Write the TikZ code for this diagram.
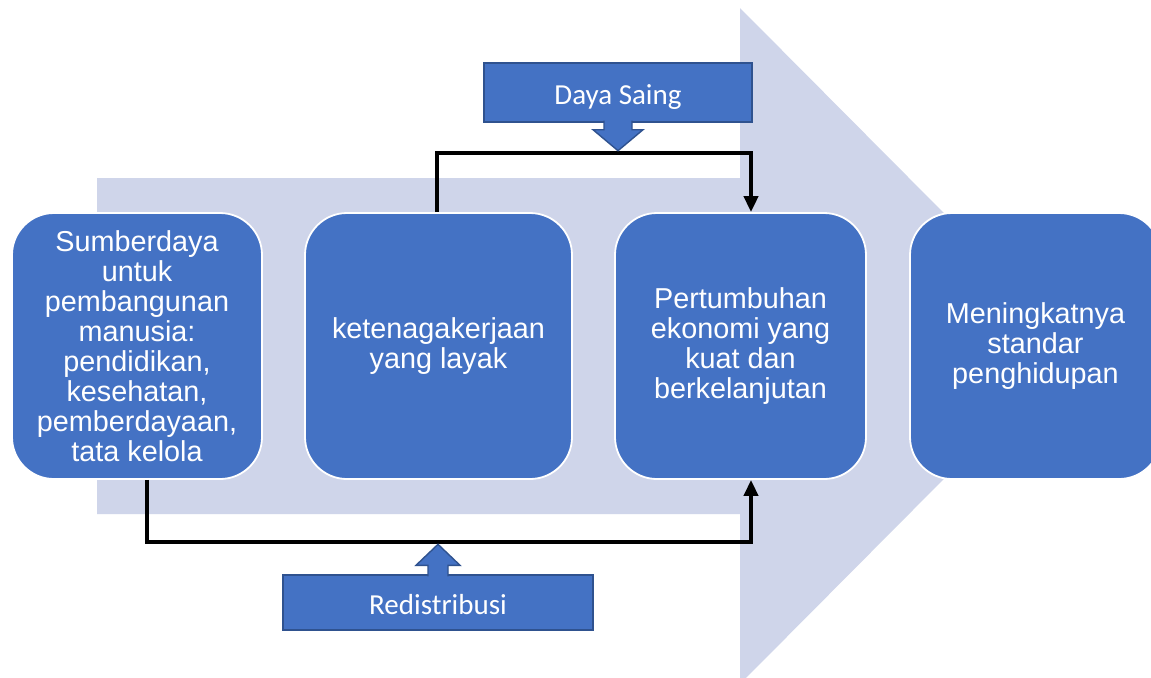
\documentclass[tikz,border=0pt]{standalone}
\usepackage{fontspec}
\setmainfont{Liberation Sans}
\newfontfamily\calibri{Carlito}
\usetikzlibrary{arrows.meta}

\definecolor{boxblue}{HTML}{4472C4}
\definecolor{shaftblue}{HTML}{CFD5EA}
\definecolor{calloutline}{HTML}{2F528F}

\begin{document}
\begin{tikzpicture}[x=0.5pt,y=-0.5pt,
    stage/.style={rectangle,rounded corners=21pt,fill=boxblue,draw=white,line width=0.9pt,
      text=white,align=center,minimum height=133pt,inner sep=2pt,
      font=\fontsize{14.4}{15}\selectfont},
    callout/.style={rectangle,fill=boxblue,draw=calloutline,line width=0.7pt,text=white,
      text height=12.4pt,text depth=0pt,
      font=\calibri\fontsize{14.5}{16}\selectfont},
    pointer/.style={fill=boxblue,draw=calloutline,line width=0.7pt},
    link/.style={line width=2pt,-{Triangle[width=7pt,length=8pt]}}]
  \useasboundingbox (0,0) rectangle (1151,677);
  \clip (0,0) rectangle (1151,677);
  \fill[white] (0,0) rectangle (1151,677);

  % big background arrow
  \fill[shaftblue] (97,178) -- (740,178) -- (740,8) -- (1076,346)
    -- (740,684) -- (740,514) -- (97,514) -- cycle;

  % stages
  \node[stage,minimum width=125pt] (sumber) at (137,346)
    {Sumberdaya\\untuk\\pembangunan\\manusia:\\pendidikan,\\kesehatan,\\pemberdayaan,\\tata kelola};
  \node[stage,minimum width=133.5pt] (kerja) at (438.5,346) {ketenagakerjaan\\yang layak};
  \node[stage,minimum width=125.5pt] (tumbuh) at (740.5,346)
    {Pertumbuhan\\ekonomi yang\\kuat dan\\berkelanjutan};
  \node[stage,minimum width=125.5pt] (hidup) at (1035.5,346)
    {Meningkatnya\\standar\\penghidupan};

  % connectors
  \draw[link] ([xshift=-1pt]kerja.north) -- ++(0,-59) -| ([xshift=5.25pt]tumbuh.north);
  \draw[link] ([xshift=5pt]sumber.south) -- ++(0,62) -| ([xshift=5.25pt]tumbuh.south);

  % callouts
  \node[callout,minimum width=134pt,minimum height=29.5pt] (daya) at (618,92.5) {Daya Saing};
  \draw[pointer] ([xshift=-7pt,yshift=1pt]daya.south) -- ++(0,9) -- ++(-11,0) -- ++(25,21)
    -- ++(25,-21) -- ++(-11,0) -- ++(0,-9);
  \node[callout,minimum width=155pt,minimum height=27.5pt] (redis) at (438,602.5) {Redistribusi};
  \draw[pointer] ([xshift=-5pt,yshift=-1pt]redis.north) -- ++(0,-11) -- ++(-12,0) -- ++(22,-21)
    -- ++(22,21) -- ++(-12,0) -- ++(0,11);
\end{tikzpicture}
\end{document}
